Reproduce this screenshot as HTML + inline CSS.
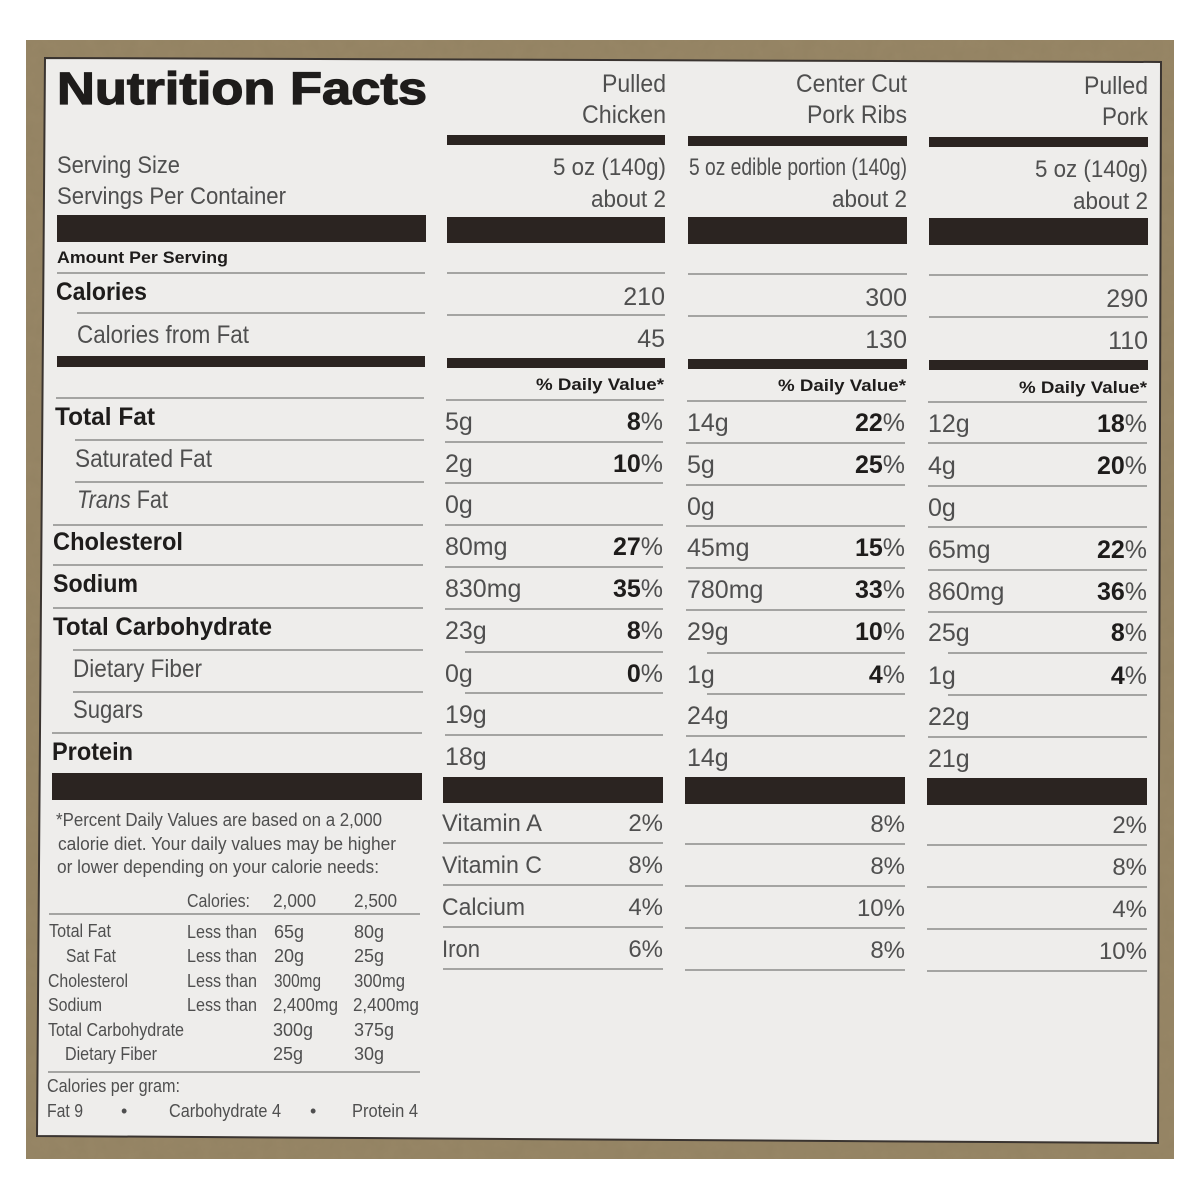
<!DOCTYPE html>
<html><head><meta charset="utf-8"><style>
html,body{margin:0;padding:0;background:#fff;}
svg{display:block;}
.r{font-family:"Liberation Sans Narrow","Liberation Sans",sans-serif;fill:#4f4f4f;}
.b{font-family:"Liberation Sans",sans-serif;font-weight:bold;fill:#1e1c1b;}
.ln{stroke:#8c8c8a;stroke-width:1.6;}
.bar{fill:#2b2421;}
</style></head><body>
<svg width="1200" height="1200" viewBox="0 0 1200 1200" xmlns="http://www.w3.org/2000/svg">
<defs>
<filter id="tex" x="0" y="0" width="100%" height="100%">
<feTurbulence type="fractalNoise" baseFrequency="0.08" numOctaves="3" seed="4"/>
<feColorMatrix type="matrix" values="0 0 0 0 0.35  0 0 0 0 0.28  0 0 0 0 0.16  0 0 0 0.55 -0.1"/>
</filter>
</defs>
<rect x="0" y="0" width="1200" height="1200" fill="#ffffff"/>
<rect x="26" y="40" width="1148" height="1119" fill="#948363"/>
<rect x="26" y="40" width="1148" height="1119" filter="url(#tex)" opacity="0.6"/>
<polygon points="45,58 1161,62 1158,1143 37,1136" fill="#eeedeb" stroke="#3a3430" stroke-width="2"/>

<!-- Title -->
<text class="b" x="57" y="104" font-size="45" textLength="370" lengthAdjust="spacingAndGlyphs" stroke="#1e1c1b" stroke-width="1.2">Nutrition Facts</text>

<!-- Column headers -->
<g class="r" font-size="25">
<text x="602" y="92" textLength="64" lengthAdjust="spacingAndGlyphs">Pulled</text>
<text x="582" y="123" textLength="84" lengthAdjust="spacingAndGlyphs">Chicken</text>
<text x="796" y="92" textLength="111" lengthAdjust="spacingAndGlyphs">Center Cut</text>
<text x="807" y="123" textLength="100" lengthAdjust="spacingAndGlyphs">Pork Ribs</text>
<text x="1084" y="94" textLength="64" lengthAdjust="spacingAndGlyphs">Pulled</text>
<text x="1102" y="125" textLength="46" lengthAdjust="spacingAndGlyphs">Pork</text>
</g>
<rect class="bar" x="447" y="135" width="218" height="10"/>
<rect class="bar" x="688" y="136" width="219" height="10"/>
<rect class="bar" x="929" y="137" width="219" height="10"/>

<!-- Serving -->
<g class="r" font-size="24">
<text x="57" y="173" textLength="123" lengthAdjust="spacingAndGlyphs">Serving Size</text>
<text x="57" y="204" textLength="229" lengthAdjust="spacingAndGlyphs">Servings Per Container</text>
<text x="553" y="175" textLength="113" lengthAdjust="spacingAndGlyphs">5 oz (140g)</text>
<text x="591" y="207" textLength="75" lengthAdjust="spacingAndGlyphs">about 2</text>
<text x="689" y="175" textLength="218" lengthAdjust="spacingAndGlyphs">5 oz edible portion (140g)</text>
<text x="832" y="207" textLength="75" lengthAdjust="spacingAndGlyphs">about 2</text>
<text x="1035" y="177" textLength="113" lengthAdjust="spacingAndGlyphs">5 oz (140g)</text>
<text x="1073" y="209" textLength="75" lengthAdjust="spacingAndGlyphs">about 2</text>
</g>
<rect class="bar" x="57" y="215" width="369" height="27"/>
<rect class="bar" x="447" y="217" width="218" height="26"/>
<rect class="bar" x="688" y="217" width="219" height="27"/>
<rect class="bar" x="929" y="218" width="219" height="27"/>

<text class="b" x="57" y="263" font-size="17" textLength="171" lengthAdjust="spacingAndGlyphs">Amount Per Serving</text>
<line class="ln" x1="57" y1="273" x2="425" y2="273"/>
<line class="ln" x1="447" y1="273" x2="665" y2="273"/>
<line class="ln" x1="688" y1="274" x2="907" y2="274"/>
<line class="ln" x1="929" y1="275" x2="1148" y2="275"/>

<text class="b" x="56" y="300" font-size="25" textLength="91" lengthAdjust="spacingAndGlyphs">Calories</text>
<g class="r" font-size="25" text-anchor="end">
<text x="665" y="305">210</text>
<text x="907" y="306">300</text>
<text x="1148" y="307">290</text>
<text x="665" y="347">45</text>
<text x="907" y="348">130</text>
<text x="1148" y="349">110</text>
</g>
<line class="ln" x1="77" y1="313" x2="425" y2="313"/>
<line class="ln" x1="447" y1="315" x2="665" y2="315"/>
<line class="ln" x1="688" y1="316" x2="907" y2="316"/>
<line class="ln" x1="929" y1="317" x2="1148" y2="317"/>
<text class="r" x="77" y="343" font-size="25" textLength="172" lengthAdjust="spacingAndGlyphs">Calories from Fat</text>

<rect class="bar" x="57" y="356" width="368" height="11"/>
<rect class="bar" x="447" y="358" width="218" height="10"/>
<rect class="bar" x="688" y="359" width="219" height="10"/>
<rect class="bar" x="929" y="360" width="219" height="10"/>

<g class="b" font-size="17">
<text x="536" y="390" textLength="128" lengthAdjust="spacingAndGlyphs">% Daily Value*</text>
<text x="778" y="391" textLength="128" lengthAdjust="spacingAndGlyphs">% Daily Value*</text>
<text x="1019" y="393" textLength="128" lengthAdjust="spacingAndGlyphs">% Daily Value*</text>
</g>
<line class="ln" x1="56" y1="398" x2="424" y2="398"/>
<line class="ln" x1="446" y1="400" x2="664" y2="400"/>
<line class="ln" x1="687" y1="401" x2="906" y2="401"/>
<line class="ln" x1="928" y1="402" x2="1147" y2="402"/>

<!-- Left labels -->
<g font-size="25">
<text class="b" x="55" y="425" textLength="100" lengthAdjust="spacingAndGlyphs">Total Fat</text>
<text class="r" x="75" y="467" textLength="137" lengthAdjust="spacingAndGlyphs">Saturated Fat</text>
<text class="r" x="77" y="508" textLength="91" lengthAdjust="spacingAndGlyphs"><tspan font-style="italic">Trans</tspan> Fat</text>
<text class="b" x="53" y="550" textLength="130" lengthAdjust="spacingAndGlyphs">Cholesterol</text>
<text class="b" x="53" y="592" textLength="85" lengthAdjust="spacingAndGlyphs">Sodium</text>
<text class="b" x="53" y="635" textLength="219" lengthAdjust="spacingAndGlyphs">Total Carbohydrate</text>
<text class="r" x="73" y="677" textLength="129" lengthAdjust="spacingAndGlyphs">Dietary Fiber</text>
<text class="r" x="73" y="718" textLength="70" lengthAdjust="spacingAndGlyphs">Sugars</text>
<text class="b" x="52" y="760" textLength="81" lengthAdjust="spacingAndGlyphs">Protein</text>
</g>
<line class="ln" x1="75" y1="440" x2="424" y2="440"/>
<line class="ln" x1="75" y1="482" x2="424" y2="482"/>
<line class="ln" x1="53" y1="525" x2="423" y2="525"/>
<line class="ln" x1="53" y1="565" x2="423" y2="565"/>
<line class="ln" x1="53" y1="608" x2="423" y2="608"/>
<line class="ln" x1="73" y1="650" x2="423" y2="650"/>
<line class="ln" x1="73" y1="692" x2="423" y2="692"/>
<line class="ln" x1="52" y1="733" x2="422" y2="733"/>
<rect class="bar" x="52" y="773" width="370" height="27"/>

<!-- Col1 values -->
<g class="r" font-size="25">
<text x="445" y="430">5g</text>
<text x="445" y="472">2g</text>
<text x="445" y="513">0g</text>
<text x="445" y="555">80mg</text>
<text x="445" y="597">830mg</text>
<text x="445" y="639">23g</text>
<text x="445" y="682">0g</text>
<text x="445" y="723">19g</text>
<text x="445" y="765">18g</text>
<text x="687" y="431">14g</text>
<text x="687" y="473">5g</text>
<text x="687" y="515">0g</text>
<text x="687" y="556">45mg</text>
<text x="687" y="598">780mg</text>
<text x="687" y="640">29g</text>
<text x="687" y="683">1g</text>
<text x="687" y="724">24g</text>
<text x="687" y="766">14g</text>
<text x="928" y="432">12g</text>
<text x="928" y="474">4g</text>
<text x="928" y="516">0g</text>
<text x="928" y="558">65mg</text>
<text x="928" y="600">860mg</text>
<text x="928" y="641">25g</text>
<text x="928" y="684">1g</text>
<text x="928" y="725">22g</text>
<text x="928" y="767">21g</text>
</g>
<g font-size="25" text-anchor="end">
<text x="663" y="430"><tspan class="b">8</tspan><tspan class="r">%</tspan></text>
<text x="663" y="472"><tspan class="b">10</tspan><tspan class="r">%</tspan></text>
<text x="663" y="555"><tspan class="b">27</tspan><tspan class="r">%</tspan></text>
<text x="663" y="597"><tspan class="b">35</tspan><tspan class="r">%</tspan></text>
<text x="663" y="639"><tspan class="b">8</tspan><tspan class="r">%</tspan></text>
<text x="663" y="682"><tspan class="b">0</tspan><tspan class="r">%</tspan></text>
<text x="905" y="431"><tspan class="b">22</tspan><tspan class="r">%</tspan></text>
<text x="905" y="473"><tspan class="b">25</tspan><tspan class="r">%</tspan></text>
<text x="905" y="556"><tspan class="b">15</tspan><tspan class="r">%</tspan></text>
<text x="905" y="598"><tspan class="b">33</tspan><tspan class="r">%</tspan></text>
<text x="905" y="640"><tspan class="b">10</tspan><tspan class="r">%</tspan></text>
<text x="905" y="683"><tspan class="b">4</tspan><tspan class="r">%</tspan></text>
<text x="1147" y="432"><tspan class="b">18</tspan><tspan class="r">%</tspan></text>
<text x="1147" y="474"><tspan class="b">20</tspan><tspan class="r">%</tspan></text>
<text x="1147" y="558"><tspan class="b">22</tspan><tspan class="r">%</tspan></text>
<text x="1147" y="600"><tspan class="b">36</tspan><tspan class="r">%</tspan></text>
<text x="1147" y="641"><tspan class="b">8</tspan><tspan class="r">%</tspan></text>
<text x="1147" y="684"><tspan class="b">4</tspan><tspan class="r">%</tspan></text>
</g>
<!-- col lines -->
<g class="ln">
<line x1="445" y1="442" x2="663" y2="442"/>
<line x1="445" y1="483" x2="663" y2="483"/>
<line x1="445" y1="525" x2="663" y2="525"/>
<line x1="445" y1="567" x2="663" y2="567"/>
<line x1="445" y1="609" x2="663" y2="609"/>
<line x1="465" y1="652" x2="663" y2="652"/>
<line x1="465" y1="693" x2="663" y2="693"/>
<line x1="445" y1="735" x2="663" y2="735"/>
<line x1="686" y1="443" x2="905" y2="443"/>
<line x1="686" y1="485" x2="905" y2="485"/>
<line x1="686" y1="526" x2="905" y2="526"/>
<line x1="686" y1="568" x2="905" y2="568"/>
<line x1="686" y1="610" x2="905" y2="610"/>
<line x1="707" y1="653" x2="905" y2="653"/>
<line x1="707" y1="694" x2="905" y2="694"/>
<line x1="686" y1="736" x2="905" y2="736"/>
<line x1="928" y1="443" x2="1147" y2="443"/>
<line x1="928" y1="486" x2="1147" y2="486"/>
<line x1="928" y1="527" x2="1147" y2="527"/>
<line x1="928" y1="570" x2="1147" y2="570"/>
<line x1="928" y1="612" x2="1147" y2="612"/>
<line x1="948" y1="653" x2="1147" y2="653"/>
<line x1="948" y1="695" x2="1147" y2="695"/>
<line x1="928" y1="737" x2="1147" y2="737"/>
</g>
<rect class="bar" x="443" y="777" width="220" height="26"/>
<rect class="bar" x="685" y="777" width="220" height="27"/>
<rect class="bar" x="927" y="778" width="220" height="27"/>

<!-- Vitamins -->
<g class="r" font-size="24">
<text x="442" y="831" textLength="100" lengthAdjust="spacingAndGlyphs">Vitamin A</text>
<text x="442" y="873" textLength="100" lengthAdjust="spacingAndGlyphs">Vitamin C</text>
<text x="442" y="915" textLength="83" lengthAdjust="spacingAndGlyphs">Calcium</text>
<text x="442" y="957" textLength="38" lengthAdjust="spacingAndGlyphs">Iron</text>
</g>
<g class="r" font-size="24" text-anchor="end">
<text x="663" y="831">2%</text>
<text x="663" y="873">8%</text>
<text x="663" y="915">4%</text>
<text x="663" y="957">6%</text>
<text x="905" y="832">8%</text>
<text x="905" y="874">8%</text>
<text x="905" y="916">10%</text>
<text x="905" y="958">8%</text>
<text x="1147" y="833">2%</text>
<text x="1147" y="875">8%</text>
<text x="1147" y="917">4%</text>
<text x="1147" y="959">10%</text>
</g>
<g class="ln">
<line x1="443" y1="843" x2="663" y2="843"/>
<line x1="443" y1="885" x2="663" y2="885"/>
<line x1="443" y1="927" x2="663" y2="927"/>
<line x1="443" y1="969" x2="663" y2="969"/>
<line x1="685" y1="844" x2="905" y2="844"/>
<line x1="685" y1="886" x2="905" y2="886"/>
<line x1="685" y1="928" x2="905" y2="928"/>
<line x1="685" y1="970" x2="905" y2="970"/>
<line x1="927" y1="845" x2="1147" y2="845"/>
<line x1="927" y1="887" x2="1147" y2="887"/>
<line x1="927" y1="929" x2="1147" y2="929"/>
<line x1="927" y1="971" x2="1147" y2="971"/>
</g>

<!-- Footnote -->
<g class="r" font-size="18">
<text x="56" y="826" textLength="326" lengthAdjust="spacingAndGlyphs">*Percent Daily Values are based on a 2,000</text>
<text x="58" y="850" textLength="338" lengthAdjust="spacingAndGlyphs">calorie diet. Your daily values may be higher</text>
<text x="57" y="873" textLength="322" lengthAdjust="spacingAndGlyphs">or lower depending on your calorie needs:</text>
<text x="187" y="907" textLength="63" lengthAdjust="spacingAndGlyphs">Calories:</text>
<text x="273" y="907" textLength="43" lengthAdjust="spacingAndGlyphs">2,000</text>
<text x="354" y="907" textLength="43" lengthAdjust="spacingAndGlyphs">2,500</text>

<text x="49" y="937" textLength="62" lengthAdjust="spacingAndGlyphs">Total Fat</text>
<text x="66" y="962" textLength="50" lengthAdjust="spacingAndGlyphs">Sat Fat</text>
<text x="48" y="987" textLength="80" lengthAdjust="spacingAndGlyphs">Cholesterol</text>
<text x="48" y="1011" textLength="54" lengthAdjust="spacingAndGlyphs">Sodium</text>
<text x="48" y="1036" textLength="136" lengthAdjust="spacingAndGlyphs">Total Carbohydrate</text>
<text x="65" y="1060" textLength="92" lengthAdjust="spacingAndGlyphs">Dietary Fiber</text>

<text x="187" y="938" textLength="70" lengthAdjust="spacingAndGlyphs">Less than</text>
<text x="187" y="962" textLength="70" lengthAdjust="spacingAndGlyphs">Less than</text>
<text x="187" y="987" textLength="70" lengthAdjust="spacingAndGlyphs">Less than</text>
<text x="187" y="1011" textLength="70" lengthAdjust="spacingAndGlyphs">Less than</text>

<text x="274" y="938">65g</text>
<text x="274" y="962">20g</text>
<text x="274" y="987" textLength="47" lengthAdjust="spacingAndGlyphs">300mg</text>
<text x="273" y="1011" textLength="65" lengthAdjust="spacingAndGlyphs">2,400mg</text>
<text x="273" y="1036">300g</text>
<text x="273" y="1060">25g</text>

<text x="354" y="938">80g</text>
<text x="354" y="962">25g</text>
<text x="354" y="987" textLength="51" lengthAdjust="spacingAndGlyphs">300mg</text>
<text x="353" y="1011" textLength="66" lengthAdjust="spacingAndGlyphs">2,400mg</text>
<text x="354" y="1036">375g</text>
<text x="354" y="1060">30g</text>

<text x="47" y="1092" textLength="133" lengthAdjust="spacingAndGlyphs">Calories per gram:</text>
<text x="47" y="1117" textLength="36" lengthAdjust="spacingAndGlyphs">Fat 9</text>
<text x="121" y="1117">•</text>
<text x="169" y="1117" textLength="112" lengthAdjust="spacingAndGlyphs">Carbohydrate 4</text>
<text x="310" y="1117">•</text>
<text x="352" y="1117" textLength="66" lengthAdjust="spacingAndGlyphs">Protein 4</text>
</g>
<line class="ln" x1="49" y1="914" x2="420" y2="914"/>
<line class="ln" x1="48" y1="1072" x2="420" y2="1072"/>
</svg>
</body></html>
